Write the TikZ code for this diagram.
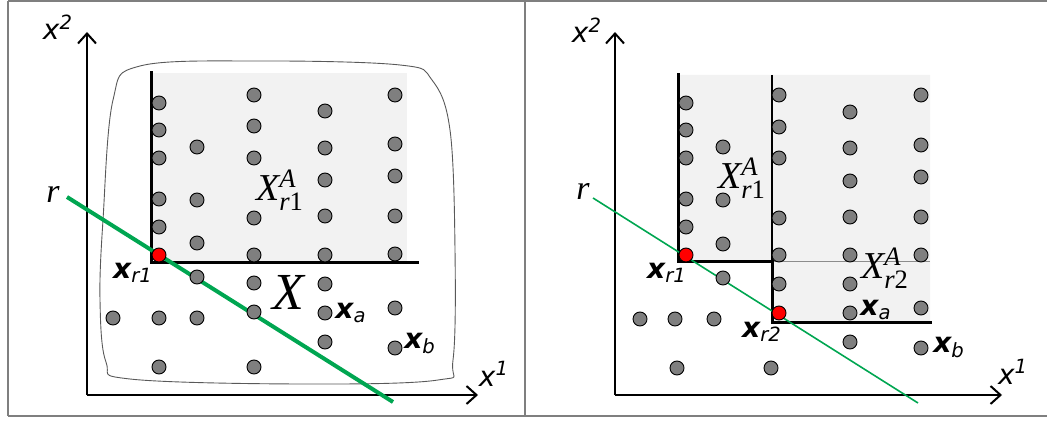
\documentclass[tikz,border=0pt]{standalone}
\usepackage{amsmath}
\usepackage{fontspec}
\setmainfont{Liberation Serif}
\newfontfamily\dvs{DejaVu Sans}
\usetikzlibrary{arrows.meta}
\definecolor{cgreen}{HTML}{00A651}
\definecolor{cshade}{HTML}{F2F2F2}
\definecolor{cdot}{HTML}{7F7F7F}
\definecolor{cframe}{HTML}{7F7F7F}
\newcommand{\vecx}[1]{$\text{\dvs\bfseries\itshape x}_{\text{\dvs\itshape #1}}$}
\newcommand{\axlab}[1]{$\text{\dvs\itshape x}^{\text{\dvs\itshape #1}}$}
\newcommand{\setA}[1]{$\textit{X}^{\textit{A}}_{\textit{r}\text{#1}}$}
\tikzset{
  pt/.style={circle, draw=black, line width=0.45pt, fill=cdot, minimum size=7pt, inner sep=0pt},
  hit/.style={pt, fill=red},
  axis/.style={-{Straight Barb[length=5pt, width=9pt]}, line width=1pt},
  bound/.style={line width=1.5pt, line cap=rect},
  rline/.style={draw=cgreen, line width=#1},
  vlab/.style={font=\fontsize{14}{16}\selectfont, inner sep=0pt},
  alab/.style={font=\fontsize{14}{16}\selectfont, inner sep=0pt},
  slab/.style={font=\fontsize{19}{21}\selectfont, inner sep=0pt},
  rlab/.style={font=\fontsize{17}{19}\selectfont\itshape, inner sep=0pt},
}

\begin{document}
\begin{tikzpicture}[x=0.5pt, y=-0.5pt]
  \useasboundingbox (0,0) rectangle (1047,421);
  % frame
  \draw[cframe, line width=0.75pt] (8,1) -- (1047,1);
  \draw[cframe, line width=0.75pt] (8,416) -- (1047,416);
  \draw[cframe, line width=0.75pt] (8,1) -- (8,416);
  \draw[cframe, line width=0.75pt] (525,1) -- (525,416);

  % ---------- left panel ----------
  \draw[black!65, line width=0.45pt] plot[smooth cycle, tension=0.6] coordinates {
    (140,66) (260,61) (400,65) (432,80) (450,130) (455,250) (453,360) (438,380)
    (300,384) (130,379) (106,362) (100,300) (103,220) (113,100)};
  \fill[cshade] (151,73) rectangle (407,263);
  \draw[bound] (151,73) -- (151,263) -- (417,263);
  \coordinate (lo) at (87,395);
  \coordinate (lxe) at (478,395);
  \coordinate (lye) at (87,32);
  \draw[axis] (lo) -- (lxe);
  \draw[axis] (lo) -- (lye);
  \coordinate (lra) at (67,197);
  \coordinate (lrb) at (393,402);
  \draw[rline=2pt] (lra) -- (lrb);
  \foreach \px/\py [count=\i] in {159/103, 159/130, 159/158, 159/199, 159/227, 159/318, 159/367,
      197/147, 197/200, 197/243, 197/277, 197/318,
      254/95, 254/126, 254/158, 254/218, 254/255, 254/283, 254/312, 254/367,
      325/111, 325/148, 325/180, 325/216, 325/255, 325/284, 325/313, 325/342,
      395/95, 395/144, 395/176, 395/216, 395/254, 395/308, 395/348, 113/318}
    \node[pt] (lp\i) at (\px,\py) {};
  \node[hit] (lr1) at (159,255) {};
  \node[rlab] (lr) at (53,194) {r};
  \node[alab] (lx2) at (58,27) {\axlab{2}};
  \node[alab] (lx1) at (494,374) {\axlab{1}};
  \node[slab] (lA1) at (280,190) {\setA{1}};
  \node[font=\fontsize{26}{28}\selectfont\itshape, inner sep=0pt] (lX) at (288,292) {X};
  \node[vlab] (lxr1) at (133,273) {\vecx{r1}};
  \node[vlab] (lxa) at (351,313) {\vecx{a}};
  \node[vlab] (lxb) at (420,343) {\vecx{b}};

  % ---------- right panel ----------
  \fill[cshade] (678,75) -- (930,75) -- (930,323) -- (772,323) -- (772,262) -- (678,262) -- cycle;
  \draw[black!45, line width=0.5pt] (772,262) -- (930,262);
  \draw[bound] (678,75) -- (678,262) -- (772,262);
  \draw[line width=1pt] (772,75) -- (772,262);
  \draw[bound] (772,262) -- (772,323) -- (930,323);
  \coordinate (ro) at (615,395);
  \coordinate (rxe) at (1002,395);
  \coordinate (rye) at (615,32);
  \draw[axis] (ro) -- (rxe);
  \draw[axis] (ro) -- (rye);
  \coordinate (rra) at (593,198);
  \coordinate (rrb) at (918,403);
  \draw[rline=0.8pt] (rra) -- (rrb);
  \foreach \px/\py [count=\i] in {686/103, 686/130, 686/158, 686/199, 686/227,
      723/147, 723/200, 723/244, 723/278,
      779/95, 779/127, 779/158, 779/218, 779/255, 779/284,
      850/112, 850/148, 850/181, 850/217, 850/255, 850/284, 850/313, 850/342,
      921/95, 921/145, 921/177, 921/217, 921/255, 921/308, 921/348,
      640/319, 675/319, 714/319, 677/368, 771/368}
    \node[pt] (rp\i) at (\px,\py) {};
  \node[hit] (rr1) at (686,255) {};
  \node[hit] (rr2) at (779,313) {};
  \node[rlab] (rr) at (583,191) {r};
  \node[alab] (rx2) at (587,30) {\axlab{2}};
  \node[alab] (rx1) at (1013,372) {\axlab{1}};
  \node[slab] (rA1) at (742,178) {\setA{1}};
  \node[slab] (rA2) at (885,268) {\setA{2}};
  \node[vlab] (rxr1) at (667,273) {\vecx{r1}};
  \node[vlab] (rxr2) at (762,332) {\vecx{r2}};
  \node[vlab] (rxa) at (876,310) {\vecx{a}};
  \node[vlab] (rxb) at (949,347) {\vecx{b}};
\end{tikzpicture}
\end{document}
